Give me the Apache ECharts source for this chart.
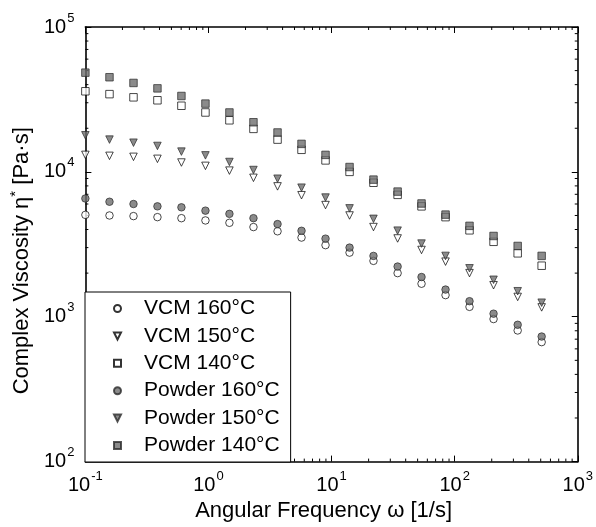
<!DOCTYPE html>
<html>
<head>
<meta charset="utf-8">
<script src="https://cdn.jsdelivr.net/npm/echarts@6/dist/echarts.min.js"></script>
<style>
  html, body { margin: 0; padding: 0; background: #fff; }
  #chart { width: 596px; height: 527px; }
</style>
</head>
<body>
<div id="chart"></div>
<script>
// angular frequency (1/s), 20 points per curve
var freq = [0.1, 0.157, 0.246, 0.385, 0.603, 0.945, 1.48, 2.32, 3.64, 5.70,
            8.93, 14.0, 21.9, 34.4, 53.8, 84.3, 132, 207, 325, 509];

// complex viscosity (Pa.s)
var vcm160 = [5050, 5000, 4950, 4870, 4790, 4620, 4450, 4160, 3890, 3520,
              3120, 2770, 2430, 2000, 1690, 1410, 1170, 964, 804, 668];
var vcm150 = [13100, 12900, 12700, 12300, 11600, 11000, 10200, 9100, 7940, 6900,
              5900, 5000, 4160, 3470, 2890, 2400, 2000, 1650, 1370, 1160];
var vcm140 = [36000, 34400, 32700, 31200, 28600, 25700, 22700, 19800, 16700, 14200,
              12000, 10000, 8410, 6940, 5780, 4870, 3950, 3290, 2740, 2250];
var powder160 = [6550, 6220, 6000, 5780, 5690, 5400, 5130, 4790, 4360, 3920,
                 3460, 3000, 2630, 2220, 1880, 1540, 1280, 1050, 880, 730];
var powder150 = [17900, 16700, 15900, 15100, 13800, 13000, 11700, 10300, 8970, 7780,
                 6650, 5600, 4740, 3930, 3200, 2630, 2160, 1800, 1500, 1250];
var powder140 = [48400, 45000, 41100, 37700, 33400, 29600, 25700, 22000, 18700, 15600,
                 13100, 10800, 8840, 7310, 6050, 5070, 4240, 3610, 3080, 2630];

var seriesNames = ['VCM 160°C', 'VCM 150°C', 'VCM 140°C',
                   'Powder 160°C', 'Powder 150°C', 'Powder 140°C'];

var xMin = 0.1, xMax = 1000;
var yMin = 100, yMax = 100000;
var xMinorTicks = [0.2, 0.3, 0.4, 0.5, 0.6, 0.7, 0.8, 0.9,
                   2, 3, 4, 5, 6, 7, 8, 9,
                   20, 30, 40, 50, 60, 70, 80, 90,
                   200, 300, 400, 500, 600, 700, 800, 900];
var yMinorTicks = [200, 300, 400, 500, 600, 700, 800, 900,
                   2000, 3000, 4000, 5000, 6000, 7000, 8000, 9000,
                   20000, 30000, 40000, 50000, 60000, 70000, 80000, 90000];

var font = '"Liberation Sans", Arial, sans-serif';
var openStyle = { color: '#ffffff', borderColor: '#000000', borderWidth: 0.9 };
var filledStyle = { color: '#6e6e6e', borderColor: '#2a2a2a', borderWidth: 0.9 };
var downTriangle = 'path://M0,0L10,0L5,10Z';

function pairs(ys) {
  return freq.map(function (x, i) { return [x, ys[i]]; });
}

function powLabel(v) {
  var e = Math.round(Math.log10(v));
  return '{b|10}{s|' + e + '}';
}

var labelRich = {
  b: { fontSize: 20, lineHeight: 31, fontFamily: font, color: '#000' },
  s: { fontSize: 13, lineHeight: 13, verticalAlign: 'top', fontFamily: font, color: '#000', padding: [0, 0, 0, 1] }
};

function axisBase(extra) {
  var base = {
    type: 'log',
    logBase: 10,
    axisLine: { show: true, lineStyle: { color: '#000', width: 1.6 } },
    axisTick: { show: true, inside: true, length: 6, lineStyle: { color: '#000', width: 1 } },
    splitLine: { show: false },
    minorTick: { show: false }
  };
  return Object.assign(base, extra);
}

function scatter(name, ys, symbol, style) {
  return {
    name: name,
    type: 'scatter',
    data: pairs(ys),
    symbol: symbol,
    symbolSize: 7.5,
    symbolRotate: symbol === 'triangle' ? 180 : 0,
    itemStyle: style,
    clip: false,
    z: 3
  };
}

// short inward ticks at 2..9 of every decade, on all four sides
function minorX(params, api) {
  var v = api.value(0);
  var b = api.coord([v, yMin]);
  var t = api.coord([v, yMax]);
  var st = { stroke: '#000', lineWidth: 1 };
  return { type: 'group', children: [
    { type: 'line', shape: { x1: b[0], y1: b[1], x2: b[0], y2: b[1] - 3 }, style: st },
    { type: 'line', shape: { x1: t[0], y1: t[1], x2: t[0], y2: t[1] + 3 }, style: st }
  ] };
}
function minorY(params, api) {
  var v = api.value(1);
  var l = api.coord([xMin, v]);
  var r = api.coord([xMax, v]);
  var st = { stroke: '#000', lineWidth: 1 };
  return { type: 'group', children: [
    { type: 'line', shape: { x1: l[0], y1: l[1], x2: l[0] + 3, y2: l[1] }, style: st },
    { type: 'line', shape: { x1: r[0], y1: r[1], x2: r[0] - 3, y2: r[1] }, style: st }
  ] };
}

var legendItems = seriesNames.map(function (n, i) {
  return (i % 3 === 1) ? { name: n, icon: downTriangle } : { name: n };
});

var chart = echarts.init(document.getElementById('chart'), null, { renderer: 'canvas' });

chart.setOption({
  backgroundColor: '#ffffff',
  animation: false,
  textStyle: { fontFamily: font, color: '#000' },
  grid: { left: 77, right: 15, top: 27, bottom: 59 },
  legend: {
    data: legendItems,
    orient: 'vertical',
    left: 85,
    top: 292,
    itemWidth: 7,
    itemHeight: 7,
    itemGap: 6.4,
    padding: [6, 11, 6, 28],
    borderColor: '#000',
    borderWidth: 1,
    backgroundColor: '#ffffff',
    textStyle: { fontSize: 21, lineHeight: 21, color: '#000', fontFamily: font, padding: [0, 0, 0, 18] },
    z: 10
  },
  xAxis: [
    axisBase({
      position: 'bottom',
      min: xMin, max: xMax,
      name: 'Angular Frequency ω [1/s]',
      nameLocation: 'middle',
      nameGap: 32,
      nameTextStyle: { fontSize: 22, color: '#000', fontFamily: font, padding: [0, 16, 0, 0] },
      axisLabel: { show: true, margin: 8, formatter: powLabel, rich: labelRich,
                   showMinLabel: true, showMaxLabel: true }
    }),
    axisBase({
      position: 'top',
      min: xMin, max: xMax,
      axisLabel: { show: false }
    })
  ],
  yAxis: [
    axisBase({
      position: 'left',
      min: yMin, max: yMax,
      name: '{t|Complex Viscosity }{t|η}{s|*}{t| [Pa·s]}',
      nameLocation: 'middle',
      nameGap: 43,
      nameTextStyle: {
        padding: [0, 33, 0, 0],
        rich: {
          t: { fontSize: 22, lineHeight: 28, color: '#000', fontFamily: font },
          s: { fontSize: 15, lineHeight: 15, verticalAlign: 'top', color: '#000', fontFamily: font }
        }
      },
      axisLabel: { show: true, margin: 11, formatter: powLabel, rich: labelRich,
                   showMinLabel: true, showMaxLabel: true }
    }),
    axisBase({
      position: 'right',
      min: yMin, max: yMax,
      axisLabel: { show: false }
    })
  ],
  series: [
    { type: 'custom', name: 'xminor', data: xMinorTicks.map(function (v) { return [v, yMin]; }),
      renderItem: minorX, clip: false, silent: true, z: 1 },
    { type: 'custom', name: 'yminor', data: yMinorTicks.map(function (v) { return [xMin, v]; }),
      renderItem: minorY, clip: false, silent: true, z: 1 },
    scatter(seriesNames[0], vcm160, 'circle', openStyle),
    scatter(seriesNames[1], vcm150, 'triangle', openStyle),
    scatter(seriesNames[2], vcm140, 'rect', openStyle),
    scatter(seriesNames[3], powder160, 'circle', filledStyle),
    scatter(seriesNames[4], powder150, 'triangle', filledStyle),
    scatter(seriesNames[5], powder140, 'rect', filledStyle)
  ]
});
</script>
</body>
</html>
